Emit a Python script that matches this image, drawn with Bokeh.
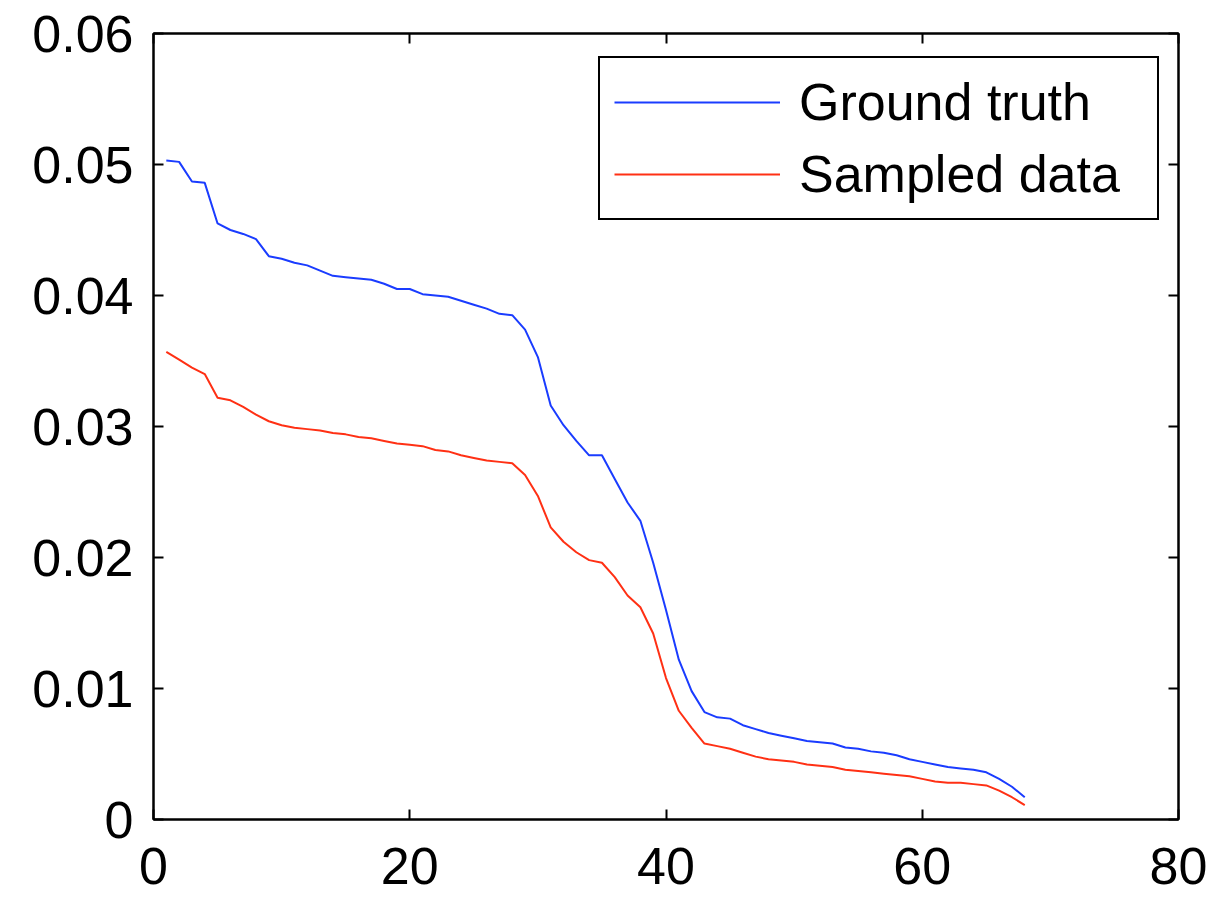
from bokeh.plotting import figure
from bokeh.models import LinearAxis, FixedTicker, CustomJSTickFormatter, Range1d, Legend, LegendItem
from bokeh.embed import file_html
from bokeh.resources import INLINE

x_values = list(range(1, 69))
ground_truth = [
    0.0503, 0.0502, 0.0487, 0.0486, 0.0455, 0.0450, 0.0447, 0.0443, 0.0430, 0.0428,
    0.0425, 0.0423, 0.0419, 0.0415, 0.0414, 0.0413, 0.0412, 0.0409, 0.0405, 0.0405,
    0.0401, 0.0400, 0.0399, 0.0396, 0.0393, 0.0390, 0.0386, 0.0385, 0.0374, 0.0353,
    0.0316, 0.0301, 0.0289, 0.0278, 0.0278, 0.0260, 0.0242, 0.0228, 0.0196, 0.0160,
    0.0122, 0.0098, 0.0082, 0.0078, 0.0077, 0.0072, 0.0069, 0.0066, 0.0064, 0.0062,
    0.0060, 0.0059, 0.0058, 0.0055, 0.0054, 0.0052, 0.0051, 0.0049, 0.0046, 0.0044,
    0.0042, 0.0040, 0.0039, 0.0038, 0.0036, 0.0031, 0.0025, 0.0017,
]
sampled_data = [
    0.0357, 0.0351, 0.0345, 0.0340, 0.0322, 0.0320, 0.0315, 0.0309, 0.0304, 0.0301,
    0.0299, 0.0298, 0.0297, 0.0295, 0.0294, 0.0292, 0.0291, 0.0289, 0.0287, 0.0286,
    0.0285, 0.0282, 0.0281, 0.0278, 0.0276, 0.0274, 0.0273, 0.0272, 0.0263, 0.0247,
    0.0223, 0.0212, 0.0204, 0.0198, 0.0196, 0.0185, 0.0171, 0.0162, 0.0142, 0.0108,
    0.0083, 0.0070, 0.0058, 0.0056, 0.0054, 0.0051, 0.0048, 0.0046, 0.0045, 0.0044,
    0.0042, 0.0041, 0.0040, 0.0038, 0.0037, 0.0036, 0.0035, 0.0034, 0.0033, 0.0031,
    0.0029, 0.0028, 0.0028, 0.0027, 0.0026, 0.0022, 0.0017, 0.0011,
]
x_ticks = [0, 20, 40, 60, 80]
y_ticks = [0, 0.01, 0.02, 0.03, 0.04, 0.05, 0.06]
series_names = ["Ground truth", "Sampled data"]

FONT = "Liberation Sans"
FS = "52px"

p = figure(frame_width=1025, frame_height=786, output_backend="svg", toolbar_location=None,
           x_range=Range1d(0, 80), y_range=Range1d(0, 0.06),
           x_axis_location=None, y_axis_location=None)
p.min_border_left = 153
p.min_border_bottom = 80
p.min_border_top = 33
p.min_border_right = 37
p.background_fill_color = "white"
p.border_fill_color = "white"
p.grid.visible = False
p.outline_line_color = "black"
p.outline_line_width = 2

fmt = CustomJSTickFormatter(code="return String(Math.round(tick*100)/100);")

def make_axis(ticks, show_labels, formatter=None):
    ax = LinearAxis(ticker=FixedTicker(ticks=ticks))
    ax.major_tick_in = 10
    ax.major_tick_out = 0
    ax.minor_tick_line_color = None
    ax.axis_line_color = "black"
    ax.axis_line_width = 2
    ax.major_tick_line_width = 2
    ax.major_tick_line_color = "black"
    if formatter is not None:
        ax.formatter = formatter
    if show_labels:
        ax.major_label_text_font = FONT
        ax.major_label_text_font_size = FS
        ax.major_label_text_color = "black"
    else:
        ax.major_label_text_font_size = "0px"
        ax.major_label_text_color = None
    return ax

bottom = make_axis(x_ticks, True)
bottom.major_label_standoff = 28
left = make_axis(y_ticks, True, fmt)
left.major_label_standoff = 20
top = make_axis(x_ticks, False)
right = make_axis(y_ticks, False)
p.add_layout(bottom, "below")
p.add_layout(left, "left")
p.add_layout(top, "above")
p.add_layout(right, "right")

r1 = p.line(x_values, ground_truth, line_color="#1a3cff", line_width=2)
r2 = p.line(x_values, sampled_data, line_color="#ff3014", line_width=2)

legend = Legend(items=[LegendItem(label=series_names[0], renderers=[r1]),
                       LegendItem(label=series_names[1], renderers=[r2])],
                location=(445, 599))
legend.label_text_font = FONT
legend.label_text_font_size = FS
legend.label_text_color = "black"
legend.glyph_width = 166
legend.glyph_height = 60
legend.label_height = 60
legend.label_width = 344
legend.label_standoff = 19
legend.spacing = 12
legend.padding = 14
legend.margin = 0
legend.border_line_color = "black"
legend.border_line_alpha = 1
legend.border_line_width = 2
legend.background_fill_color = "white"
legend.background_fill_alpha = 1
p.add_layout(legend, "center")

open("out.html", "w").write(file_html(p, INLINE))
